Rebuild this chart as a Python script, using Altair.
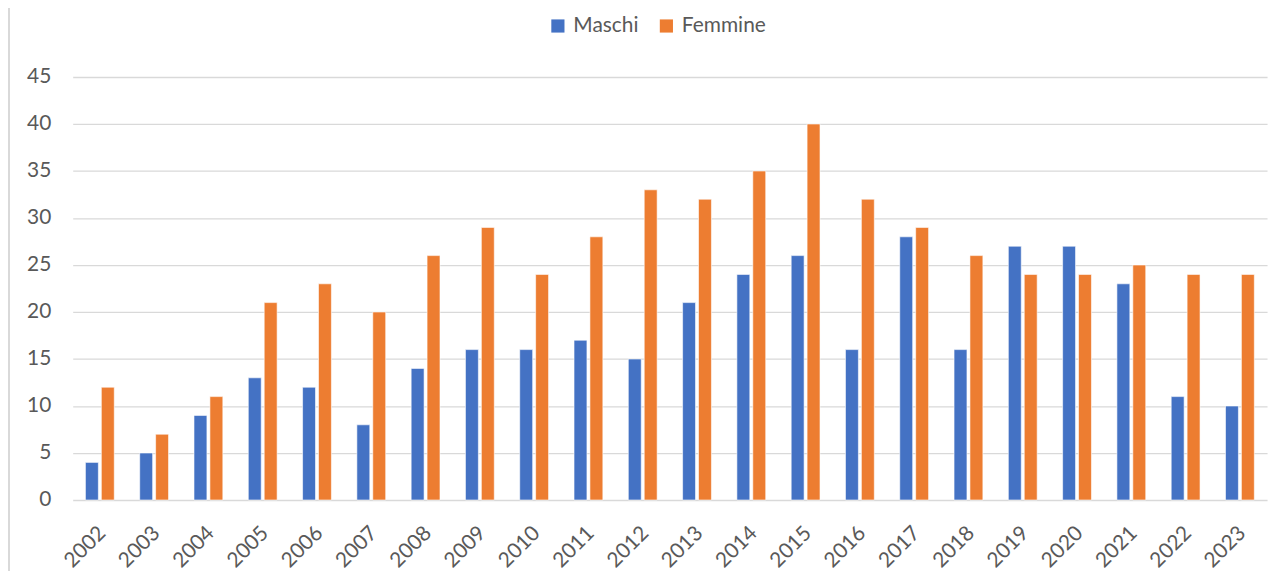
import altair as alt
import pandas as pd

years = [str(y) for y in range(2002, 2024)]
maschi = [4, 5, 9, 13, 12, 8, 14, 16, 16, 17, 15, 21, 24, 26, 16, 28, 16, 27, 27, 23, 11, 10]
femmine = [12, 7, 11, 21, 23, 20, 26, 29, 24, 28, 33, 32, 35, 40, 32, 29, 26, 24, 24, 25, 24, 24]
series = ["Maschi", "Femmine"]
colors = ["#4472C4", "#ED7D31"]
y_ticks = list(range(0, 50, 5))

rows = []
for i, y in enumerate(years):
    rows.append({"anno": y, "serie": "Maschi", "valore": maschi[i]})
    rows.append({"anno": y, "serie": "Femmine", "valore": femmine[i]})
df = pd.DataFrame(rows)

FONT = "Lato"
GRAY = "#595959"

bars = alt.Chart(df).mark_bar(stroke="white", strokeWidth=0.6).encode(
    x=alt.X("anno:N", sort=years,
            scale=alt.Scale(paddingInner=0, paddingOuter=0),
            axis=alt.Axis(title=None, labelAngle=-45, domain=False, ticks=False,
                          labelPadding=22, labelOffset=-5, labelFontSize=21, labelColor=GRAY,
                          labelFont=FONT, grid=False)),
    xOffset=alt.XOffset("serie:N", sort=series,
                        scale=alt.Scale(paddingInner=0.1875, paddingOuter=0.8)),
    y=alt.Y("valore:Q",
            scale=alt.Scale(domain=[0, 45], nice=False),
            axis=alt.Axis(title=None, values=y_ticks, domain=False, ticks=False,
                          labelPadding=22, labelFontSize=21, labelColor=GRAY,
                          labelFont=FONT, gridColor="#d9d9d9", gridWidth=1.3)),
    color=alt.Color("serie:N", sort=series,
                    scale=alt.Scale(domain=series, range=colors),
                    legend=alt.Legend(title=None, orient="none", direction="horizontal",
                                      legendX=477, legendY=-62,
                                      symbolType="square", symbolSize=175,
                                      symbolStrokeWidth=0,
                                      labelFontSize=21, labelColor=GRAY, labelFont=FONT,
                                      columnPadding=17, labelOffset=5)),
)

border = alt.Chart(pd.DataFrame({"v": [0]})).mark_rule(color="#d9d9d9", strokeWidth=2).encode(
    x=alt.value(-64), y=alt.value(-76), y2=alt.value(500)
)

chart = alt.layer(border, bars).properties(
    width=1200, height=425,
    autosize=alt.AutoSizeParams(type="none"),
    padding={"left": 65, "top": 68, "right": 10, "bottom": 70},
).configure_view(stroke=None)

chart.save("out.html", embed_options={"renderer": "svg", "actions": False})
